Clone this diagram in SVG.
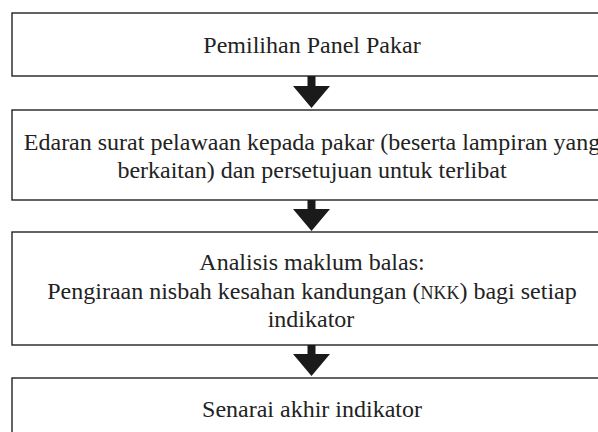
<svg xmlns="http://www.w3.org/2000/svg" width="598" height="432" viewBox="0 0 598 432">
<style>
.box{fill:#fff;stroke:#222;stroke-width:1.4}
.t{font-family:"Liberation Serif","Times New Roman",serif;font-size:24px;fill:#222;text-anchor:middle}
.sc{font-size:18px}
.arr{fill:#1a1a1a}
</style>
<rect width="598" height="432" fill="#fff"/>
<g id="node1">
<rect class="box" x="12" y="13" width="640" height="63"/>
<text class="t" x="312" y="53">Pemilihan Panel Pakar</text>
</g>
<g id="node2">
<rect class="box" x="12" y="110" width="640" height="90"/>
<text class="t" x="312" y="150">Edaran surat pelawaan kepada pakar (beserta lampiran yang</text>
<text class="t" x="312" y="178">berkaitan) dan persetujuan untuk terlibat</text>
</g>
<g id="node3">
<rect class="box" x="12" y="232" width="640" height="113"/>
<text class="t" x="312" y="270">Analisis maklum balas:</text>
<text class="t" x="312" y="299">Pengiraan nisbah kesahan kandungan (<tspan class="sc">NKK</tspan>) bagi setiap</text>
<text class="t" x="311" y="327">indikator</text>
</g>
<g id="node4">
<rect class="box" x="12" y="378" width="640" height="80"/>
<text class="t" x="312" y="417">Senarai akhir indikator</text>
</g>
<g id="connectors">
<polygon class="arr" points="307.5,76 315.5,76 315.5,86 330,86 311.5,108 293,86 307.5,86"/>
<polygon class="arr" points="307.5,200 315.5,200 315.5,209 330,209 311.5,231 293,209 307.5,209"/>
<polygon class="arr" points="307.5,345 315.5,345 315.5,354 330,354 311.5,376 293,354 307.5,354"/>
</g>
</svg>
